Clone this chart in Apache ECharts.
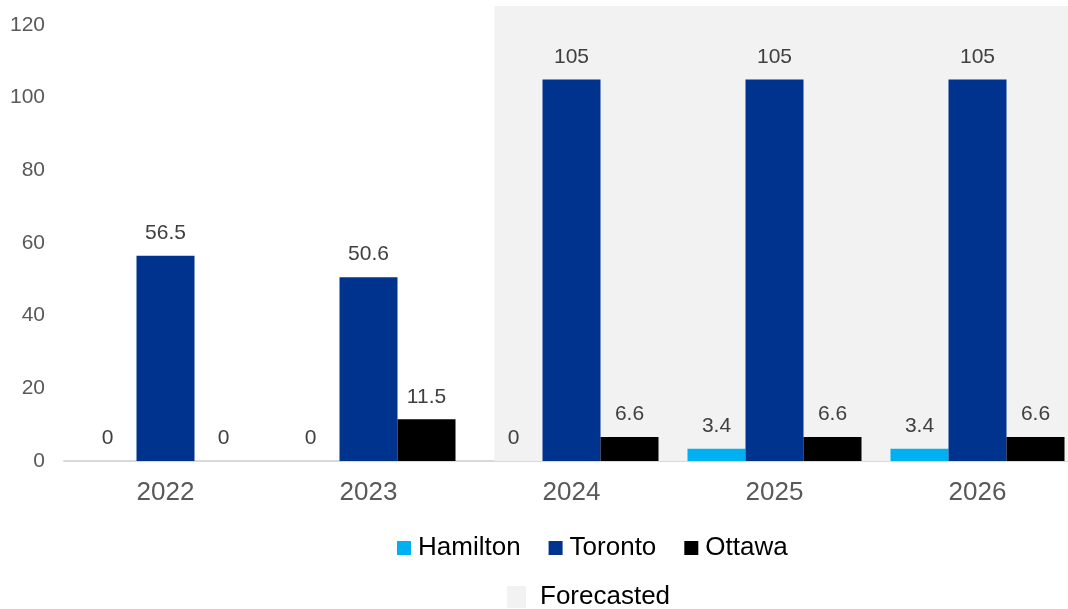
<!DOCTYPE html>
<html>
<head>
<meta charset="utf-8">
<script src="https://cdn.jsdelivr.net/npm/echarts@6/dist/echarts.min.js"></script>
<style>
html,body{margin:0;padding:0;background:#fff;overflow:hidden;width:1068px;height:609px;}
#chart{width:1079px;height:609px;}
</style>
</head>
<body>
<div id="chart"></div>
<script>
const categories = ['2022', '2023', '2024', '2025', '2026'];
const hamilton = [0, 0, 0, 3.4, 3.4];
const toronto = [56.5, 50.6, 105, 105, 105];
const ottawa = [0, 11.5, 6.6, 6.6, 6.6];
const yTicks = [0, 20, 40, 60, 80, 100, 120];
const forecastRange = ['2024', '2026'];

const chart = echarts.init(document.getElementById('chart'));
const FONT = '"Liberation Sans", Arial, sans-serif';

const labelCfg = {
  show: true,
  position: 'top',
  distance: 12,
  fontSize: 21,
  color: '#404040',
  fontFamily: FONT
};

function barSeries(name, data, color) {
  return {
    name: name,
    type: 'bar',
    data: data,
    barWidth: 58,
    barGap: '0%',
    z: 3,
    itemStyle: { color: color },
    label: labelCfg
  };
}

const option = {
  animation: false,
  backgroundColor: '#ffffff',
  grid: { left: 64, top: 25, right: 0, height: 436, containLabel: false },
  xAxis: {
    type: 'category',
    data: categories,
    axisLine: { show: true, lineStyle: { color: '#d9d9d9', width: 2 } },
    axisTick: { show: false },
    axisLabel: { fontSize: 26, color: '#595959', margin: 19, fontFamily: FONT },
    splitLine: { show: false }
  },
  yAxis: {
    type: 'value',
    min: yTicks[0],
    max: yTicks[yTicks.length - 1],
    interval: yTicks[1] - yTicks[0],
    axisLine: { show: false },
    axisTick: { show: false },
    splitLine: { show: false },
    axisLabel: { fontSize: 21, color: '#595959', margin: 19, fontFamily: FONT }
  },
  legend: [
    {
      data: ['Hamilton', 'Toronto', 'Ottawa'],
      left: 392,
      top: 530,
      icon: 'rect',
      itemWidth: 14,
      itemHeight: 14,
      itemGap: 28,
      textStyle: { fontSize: 26, color: '#000000', fontFamily: FONT, padding: [0, 0, 0, 2] },
      selectedMode: false
    },
    {
      data: [{ name: 'Forecasted', icon: 'rect', itemStyle: { color: '#f2f2f2' } }],
      left: 502,
      top: 579,
      itemWidth: 19,
      itemHeight: 22,
      textStyle: { fontSize: 26, color: '#000000', fontFamily: FONT, padding: [0, 0, 0, 9] },
      selectedMode: false
    }
  ],
  series: [
    {
      name: 'Forecasted',
      type: 'custom',
      z: 1,
      silent: true,
      itemStyle: { color: '#f2f2f2' },
      encode: { x: [0, 1] },
      data: [[categories.indexOf(forecastRange[0]), categories.indexOf(forecastRange[1])]],
      renderItem: function (params, api) {
        const c0 = api.coord([api.value(0), 0]);
        const c1 = api.coord([api.value(1), 0]);
        const bw = api.size([1, 0])[0];
        const top = api.coord([0, yTicks[yTicks.length - 1]])[1] - 19;
        const x0 = c0[0] - 0.38 * bw;
        const x1 = c1[0] + 0.5 * bw;
        return {
          type: 'rect',
          shape: { x: x0, y: top, width: x1 - x0, height: c0[1] - top },
          style: { fill: '#f2f2f2' }
        };
      }
    },
    barSeries('Hamilton', hamilton, '#00b0f0'),
    barSeries('Toronto', toronto, '#00338d'),
    barSeries('Ottawa', ottawa, '#000000')
  ]
};
chart.setOption(option);
</script>
</body>
</html>
